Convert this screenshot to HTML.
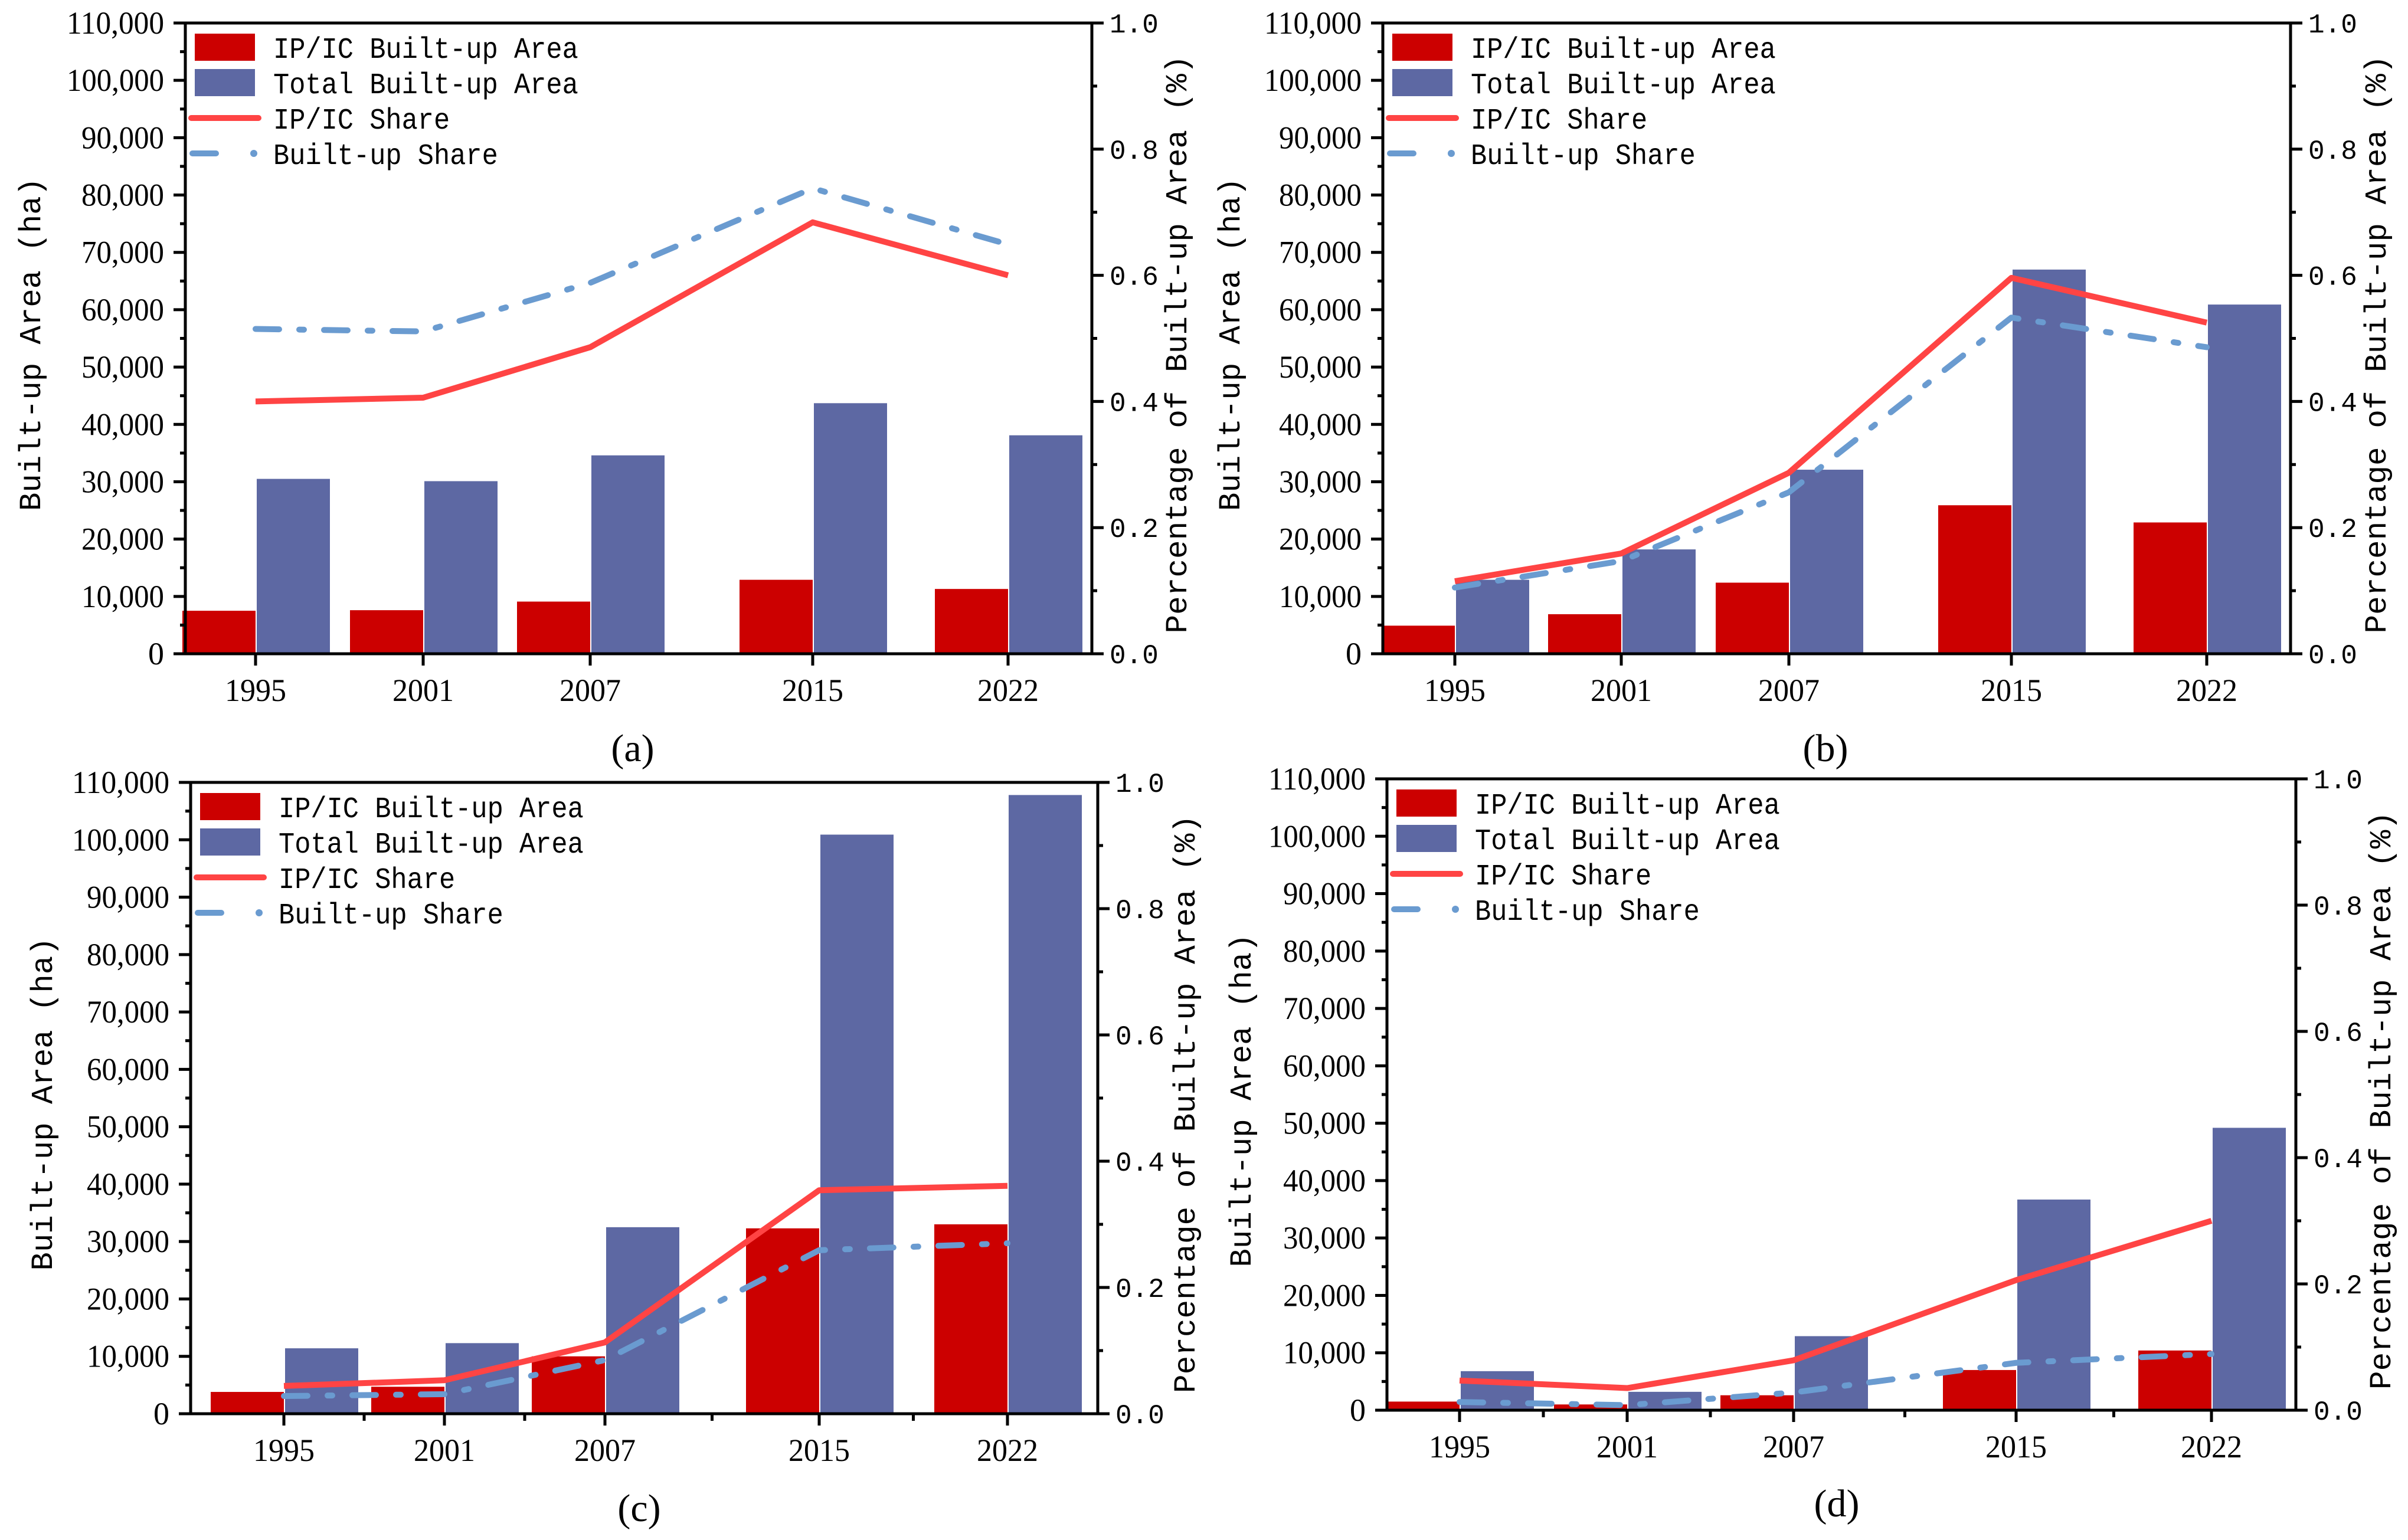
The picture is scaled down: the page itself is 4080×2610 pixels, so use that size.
<!DOCTYPE html>
<html><head><meta charset="utf-8">
<style>
html,body{margin:0;padding:0;background:#fff;}
svg{display:block;}
text{fill:#000;}
</style></head>
<body>
<svg id="fig" width="4080" height="2610" viewBox="0 0 4080 2610" xmlns="http://www.w3.org/2000/svg"></svg>
<script>
const years = ["1995","2001","2007","2015","2022"];
const yTicks = [0,10000,20000,30000,40000,50000,60000,70000,80000,90000,100000,110000];
const rTicks = [0,0.2,0.4,0.6,0.8,1.0];
// panel (a)
const aIP = [7500,7600,9100,12900,11300];
const aTotal = [30500,30100,34600,43700,38100];
const aIPShare = [0.400,0.406,0.486,0.684,0.600];
const aBuiltShare = [0.515,0.511,0.588,0.738,0.649];
// panel (b)
const bIP = [4900,6900,12400,25900,22900];
const bTotal = [12900,18200,32100,67000,60900];
const bIPShare = [0.115,0.159,0.287,0.596,0.525];
const bBuiltShare = [0.105,0.147,0.256,0.533,0.486];
// panel (c)
const cIP = [3800,4700,10000,32300,33000];
const cTotal = [11400,12300,32500,100900,107800];
const cIPShare = [0.044,0.053,0.113,0.354,0.361];
const cBuiltShare = [0.028,0.031,0.085,0.259,0.270];
// panel (d)
const dIP = [1500,1000,2600,7000,10400];
const dTotal = [6800,3200,12900,36700,49200];
const dIPShare = [0.047,0.035,0.079,0.206,0.300];
const dBuiltShare = [0.013,0.008,0.028,0.075,0.089];

const NS = "http://www.w3.org/2000/svg";
const fig = document.getElementById('fig');
function mk(tag, attrs, parent){
  const e = document.createElementNS(NS, tag);
  for (const k in attrs) e.setAttribute(k, attrs[k]);
  (parent||fig).appendChild(e);
  return e;
}
function fmt(v){ return v.toLocaleString('en-US'); }

const panels = [
  {id:'a', L:314, R:1850, T:39, B:1108, ticks:[433,717,1000,1377,1708], ip:aIP, tot:aTotal, ips:aIPShare, bs:aBuiltShare, lt:52, rt:1994, cap:[1072,1268], mid:false},
  {id:'b', L:2343, R:3881, T:39, B:1108, ticks:[2465,2747,3031,3408,3739], ip:bIP, tot:bTotal, ips:bIPShare, bs:bBuiltShare, lt:2084, rt:4026, cap:[3093,1268], mid:false},
  {id:'c', L:323, R:1860, T:1326, B:2396, ticks:[481,753,1025,1388,1707], ip:cIP, tot:cTotal, ips:cIPShare, bs:cBuiltShare, lt:72, rt:2008, cap:[1083,2556], mid:true},
  {id:'d', L:2350, R:3890, T:1320, B:2390, ticks:[2473,2757,3039,3416,3747], ip:dIP, tot:dTotal, ips:dIPShare, bs:dBuiltShare, lt:2103, rt:4034, cap:[3112,2548], mid:true}
];

panels.forEach(p => {
  const g = mk('g', {});
  
  
  const yL = v => p.B - v / 110000 * (p.B - p.T);
  const yR = v => p.B - v * (p.B - p.T);
  const bw = 124;
  // bars
  years.forEach((yr, i) => {
    const x = p.ticks[i];
    const r1 = mk('rect', {x: x - bw, y: yL(p.ip[i]), width: bw, height: p.B - yL(p.ip[i]), fill:'#CC0000'}, g);
    
    
    const r2 = mk('rect', {x: x + 2, y: yL(p.tot[i]), width: bw, height: p.B - yL(p.tot[i]), fill:'#5D68A3'}, g);
    
    
  });
  // lines
  const ptsR = p.ips.map((v,i)=> p.ticks[i] + ',' + yR(v)).join(' ');
  const ptsB = p.bs.map((v,i)=> p.ticks[i] + ',' + yR(v)).join(' ');
  const lb = mk('polyline', {points: ptsB, fill:'none', stroke:'#6A9BD0', 'stroke-width':10, 'stroke-dasharray':'40 34 8 34', 'stroke-linecap':'round', 'stroke-linejoin':'round'}, g);
  
  
  const lr = mk('polyline', {points: ptsR, fill:'none', stroke:'#FF4444', 'stroke-width':10, 'stroke-linejoin':'round'}, g);
  
  
  // frame
  const fr = mk('rect', {x:p.L, y:p.T, width:p.R-p.L, height:p.B-p.T, fill:'none', stroke:'#000', 'stroke-width':5}, g);
  
  
  // left ticks
  for (let v = 0; v <= 110000; v += 5000) {
    const major = v % 10000 === 0;
    mk('line', {x1:p.L - (major?20:9), x2:p.L, y1:yL(v), y2:yL(v), stroke:'#000', 'stroke-width':5}, g);
  }
  yTicks.forEach(v => {
    const t = mk('text', {x:p.L - 36, y:yL(v) + 18, 'text-anchor':'end', 'font-family':'Liberation Serif, serif', 'font-size':54}, g);
    t.textContent = fmt(v);
    if (v >= 10000) { t.setAttribute('textLength', v >= 100000 ? 165 : 140); t.setAttribute('lengthAdjust','spacingAndGlyphs'); }
    
    
  });
  // right ticks
  for (let k = 0; k <= 10; k++) {
    const major = k % 2 === 0;
    mk('line', {x1:p.R, x2:p.R + (major?20:9), y1:yR(k/10), y2:yR(k/10), stroke:'#000', 'stroke-width':5}, g);
  }
  rTicks.forEach(v => {
    const t = mk('text', {x:p.R + 30, y:yR(v) + 16, 'font-family':'Liberation Mono, monospace', 'font-size':46}, g);
    t.textContent = v.toFixed(1);
    
    
  });
  // bottom ticks
  years.forEach((yr, i) => {
    const x = p.ticks[i];
    mk('line', {x1:x, x2:x, y1:p.B, y2:p.B + 20, stroke:'#000', 'stroke-width':5}, g);
    if (p.mid && i < years.length - 1) {
      const xm = (p.ticks[i] + p.ticks[i+1]) / 2;
      mk('line', {x1:xm, x2:xm, y1:p.B, y2:p.B + 12, stroke:'#000', 'stroke-width':5}, g);
    }
    const t = mk('text', {x:x, y:p.B + 80, 'text-anchor':'middle', 'font-family':'Liberation Serif, serif', 'font-size':54, textLength:104, lengthAdjust:'spacingAndGlyphs'}, g);
    t.textContent = yr;
    
    
  });
  // axis titles
  const cy = (p.T + p.B) / 2 + 10;
  const lt = mk('text', {x:0, y:0, transform:`translate(${p.lt+16},${cy}) rotate(-90)`, 'text-anchor':'middle', 'font-family':'Liberation Mono, monospace', 'font-size':52, textLength:565, lengthAdjust:'spacingAndGlyphs'}, g);
  lt.textContent = 'Built-up Area (ha)';
  
  
  const rt = mk('text', {x:0, y:0, transform:`translate(${p.rt+16},${cy}) rotate(-90)`, 'text-anchor':'middle', 'font-family':'Liberation Mono, monospace', 'font-size':52, textLength:980, lengthAdjust:'spacingAndGlyphs'}, g);
  rt.textContent = 'Percentage of Built-up Area (%)';
  
  
  // caption
  const cp = mk('text', {x:p.cap[0], y:p.cap[1] + 22, 'text-anchor':'middle', 'font-family':'Liberation Serif, serif', 'font-size':66}, g);
  cp.textContent = '(' + p.id + ')';
  
  
  // legend
  const lg = mk('g', {}, g);
  
  
  const lx = p.L + 16, ly = p.T;
  mk('rect', {x:lx, y:ly + 18, width:102, height:46, fill:'#CC0000'}, lg);
  mk('rect', {x:lx, y:ly + 78, width:102, height:46, fill:'#5D68A3'}, lg);
  mk('line', {x1:lx - 6, x2:lx + 108, y1:ly + 161, y2:ly + 161, stroke:'#FF4444', 'stroke-width':10, 'stroke-linecap':'round'}, lg);
  mk('line', {x1:lx - 4, x2:lx + 36, y1:ly + 221, y2:ly + 221, stroke:'#6A9BD0', 'stroke-width':10, 'stroke-linecap':'round'}, lg);
  mk('circle', {cx:lx + 100, cy:ly + 221, r:6, fill:'#6A9BD0'}, lg);
  const labels = ['IP/IC Built-up Area','Total Built-up Area','IP/IC Share','Built-up Share'];
  labels.forEach((s, k) => {
    const t = mk('text', {x:p.L + 149, y:ly + 59 + k*60, 'font-family':'Liberation Mono, monospace', 'font-size':50, textLength:s.length*27.2, lengthAdjust:'spacingAndGlyphs'}, lg);
    t.textContent = s;
    
    
  });
});
</script>
</body></html>
